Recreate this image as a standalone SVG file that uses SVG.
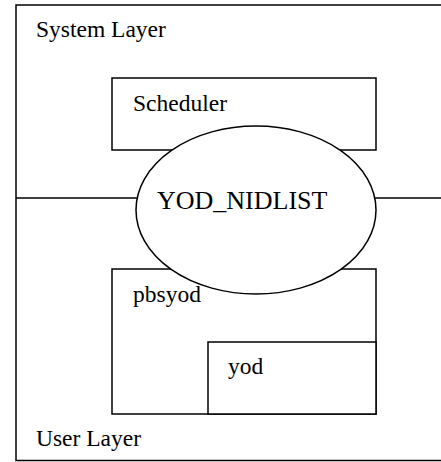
<svg xmlns="http://www.w3.org/2000/svg" width="441" height="462" viewBox="0 0 441 462">
<style>
.b{fill:none;stroke:#000;stroke-width:1.5}
.f{fill:#fff;stroke:#000;stroke-width:1.5}
.t{font-family:"Liberation Serif","Times New Roman",serif;font-size:23.5px;fill:#000}
</style>
<rect width="441" height="462" fill="#fff"/>
<g id="frame"><rect class="b" x="16" y="5" width="430" height="455.5"/>
<text class="t" x="36" y="37">System Layer</text>
<text class="t" x="36" y="445.5">User Layer</text></g>
<g id="connectors"><line class="b" x1="16" y1="198" x2="137" y2="198"/><line class="b" x1="375" y1="198" x2="441" y2="198"/></g>
<g id="scheduler"><rect class="f" x="112" y="78" width="264" height="72"/><text class="t" x="133" y="111">Scheduler</text></g>
<g id="pbsyod"><rect class="f" x="112" y="269" width="264" height="145"/><text class="t" x="133" y="301.5">pbsyod</text></g>
<g id="yod"><rect class="f" x="208" y="342" width="168" height="72"/><text class="t" x="228" y="374">yod</text></g>
<g id="yod_nidlist"><ellipse class="f" cx="256" cy="210" rx="120" ry="84"/><text class="t" x="157" y="209" style="font-size:26px">YOD_NIDLIST</text></g>
</svg>
